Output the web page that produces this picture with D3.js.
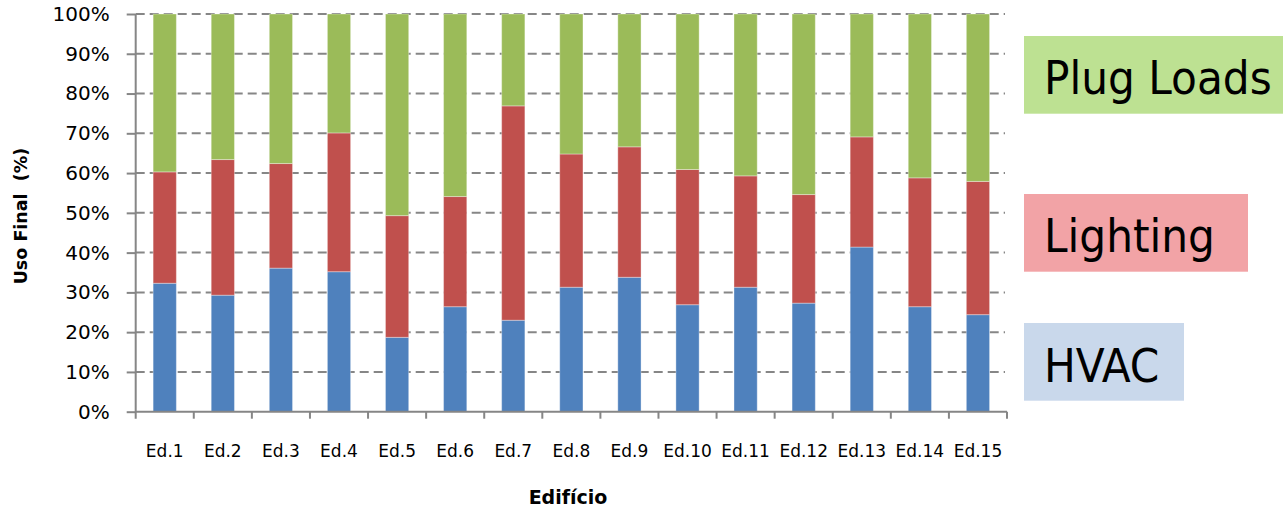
<!DOCTYPE html>
<html>
<head>
<meta charset="utf-8">
<script src="https://cdn.jsdelivr.net/npm/d3@7"></script>
<style>
  html, body { margin: 0; padding: 0; background: #fff; }
  svg { display: block; }
</style>
</head>
<body>
<svg id="chart" width="1283" height="510"></svg>
<script>
// ---- data ----
const categories = ["Ed.1","Ed.2","Ed.3","Ed.4","Ed.5","Ed.6","Ed.7","Ed.8","Ed.9","Ed.10","Ed.11","Ed.12","Ed.13","Ed.14","Ed.15"];
const hvac     = [32.3, 29.3, 36.1, 35.2, 18.7, 26.4, 23.0, 31.3, 33.8, 26.9, 31.3, 27.3, 41.4, 26.4, 24.4];
const lighting = [28.0, 34.1, 26.3, 34.9, 30.6, 27.7, 53.9, 33.5, 32.8, 34.0, 28.0, 27.3, 27.7, 32.4, 33.5];
const plugLoads= [39.7, 36.6, 37.6, 29.9, 50.7, 45.9, 23.1, 35.2, 33.4, 39.1, 40.7, 45.4, 30.9, 41.2, 42.1];
const seriesNames = ["HVAC", "Lighting", "Plug Loads"];
const yTicks = [0,10,20,30,40,50,60,70,80,90,100];
const yTickLabels = ["0%","10%","20%","30%","40%","50%","60%","70%","80%","90%","100%"];
const yTitle = "Uso Final  (%)";
const xTitle = "Edifício";

const colors = { "HVAC": "#4F81BD", "Lighting": "#C0504D", "Plug Loads": "#9BBB59" };
const legendFill = { "HVAC": "#C9D8EB", "Lighting": "#F2A3A6", "Plug Loads": "#BDE192" };

// ---- layout ----
const svg = d3.select("#chart");
const plotL = 135.7, plotR = 1007, plotT = 14, plotB = 411.7;
const axisColor = "#868686";

const x = d3.scaleBand().domain(categories).range([plotL, plotR]).paddingInner(0.6).paddingOuter(0.3);
const xBound = d3.scaleBand().domain(categories).range([plotL, plotR]).padding(0);
const y = d3.scaleLinear().domain([0, 100]).range([plotB, plotT]);

// gridlines (dashed)
svg.append("g").selectAll("line").data(yTicks.filter(d => d > 0)).join("line")
  .attr("x1", plotL).attr("x2", plotR - 2)
  .attr("y1", d => y(d)).attr("y2", d => y(d))
  .attr("stroke", axisColor).attr("stroke-width", 2)
  .attr("stroke-dasharray", "9,5");

// stacked bars
const rows = categories.map((c, i) => ({ cat: c, "HVAC": hvac[i], "Lighting": lighting[i], "Plug Loads": plugLoads[i] }));
const stack = d3.stack().keys(seriesNames)(rows);
svg.append("g").selectAll("g").data(stack).join("g")
  .attr("fill", d => colors[d.key])
  .selectAll("rect").data(d => d).join("rect")
  .attr("x", d => x(d.data.cat))
  .attr("width", x.bandwidth())
  .attr("y", d => y(Math.min(100, d[1])))
  .attr("height", d => y(d[0]) - y(Math.min(100, d[1])))
  .attr("stroke", "rgba(255,255,255,0.35)")
  .attr("stroke-width", 1);

// y axis
const yAxis = d3.axisLeft(y).tickValues(yTicks).tickFormat((d, i) => yTickLabels[i]).tickSize(9).tickPadding(17);
const gy = svg.append("g").attr("transform", `translate(${plotL},0)`).call(yAxis);
gy.select(".domain").remove();
gy.selectAll(".tick line").attr("stroke", axisColor).attr("stroke-width", 2);
gy.selectAll(".tick text").attr("font-family", "DejaVu Sans, Verdana, sans-serif").attr("font-size", 20).attr("fill", "#000");
svg.append("line").attr("x1", plotL).attr("x2", plotL).attr("y1", plotT).attr("y2", plotB + 7)
  .attr("stroke", axisColor).attr("stroke-width", 2);

// x axis
svg.append("line").attr("x1", plotL).attr("x2", plotR).attr("y1", plotB).attr("y2", plotB)
  .attr("stroke", axisColor).attr("stroke-width", 2);
const bounds = categories.map(c => xBound(c) + xBound.bandwidth());
svg.append("g").selectAll("line").data(bounds).join("line")
  .attr("x1", d => d).attr("x2", d => d).attr("y1", plotB).attr("y2", plotB + 7)
  .attr("stroke", axisColor).attr("stroke-width", 2);
svg.append("g").selectAll("text").data(categories).join("text")
  .attr("x", d => xBound(d) + xBound.bandwidth() / 2)
  .attr("y", 456.5)
  .attr("text-anchor", "middle")
  .attr("font-family", "DejaVu Sans, Verdana, sans-serif")
  .attr("font-size", 17)
  .attr("fill", "#000")
  .text(d => d);

// axis titles
svg.append("text")
  .attr("transform", "translate(27,216) rotate(-90)")
  .attr("text-anchor", "middle")
  .attr("font-family", "DejaVu Sans, Verdana, sans-serif")
  .attr("font-weight", "bold")
  .attr("font-size", 17.5)
  .style("white-space", "pre")
  .attr("fill", "#000")
  .text(yTitle);
svg.append("text")
  .attr("x", 568).attr("y", 504)
  .attr("text-anchor", "middle")
  .attr("font-family", "DejaVu Sans, Verdana, sans-serif")
  .attr("font-weight", "bold")
  .attr("font-size", 19)
  .attr("fill", "#000")
  .text(xTitle);

// legend boxes
const legendItems = [
  { name: "Plug Loads", y0: 36, y1: 113.7, x1: 1283, base: 94 },
  { name: "Lighting",   y0: 194, y1: 271.7, x1: 1248, base: 251.7 },
  { name: "HVAC",       y0: 323, y1: 400.7, x1: 1184, base: 381.7 }
];
const lg = svg.append("g").selectAll("g").data(legendItems).join("g");
lg.append("rect")
  .attr("x", 1024).attr("y", d => d.y0)
  .attr("width", d => d.x1 - 1024).attr("height", d => d.y1 - d.y0)
  .attr("fill", d => legendFill[d.name]);
lg.append("text")
  .attr("x", 1044).attr("y", d => d.base)
  .attr("font-family", "DejaVu Sans Condensed, DejaVu Sans, sans-serif")
  .attr("font-size", 47)
  .attr("fill", "#000")
  .text(d => d.name);
</script>
</body>
</html>
